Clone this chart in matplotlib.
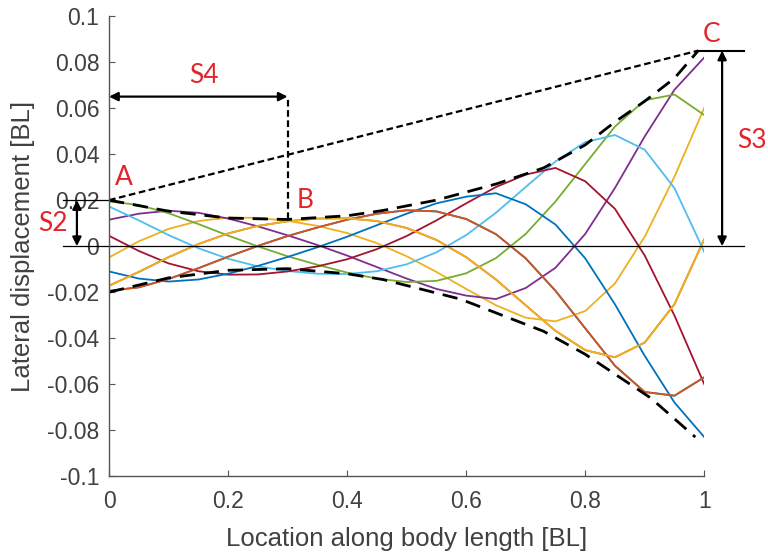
import matplotlib
matplotlib.use('Agg')
import matplotlib.pyplot as plt

# sample points along the body [BL]
x_pos = [0.00, 0.05, 0.10, 0.15, 0.20, 0.25, 0.30, 0.35, 0.40, 0.45, 0.50,
         0.55, 0.60, 0.65, 0.70, 0.75, 0.80, 0.85, 0.90, 0.95, 1.00]

# lateral displacement of the 10 snapshots
# snapshots 1 and 2 sit under 9 and 10
snap_1 = [-0.0194, -0.0179, -0.0143, -0.0096, -0.0046, 0.0001, 0.0044, 0.0081, 0.0115, 0.0141, 0.0156,
          0.0151, 0.0118, 0.0052, -0.0053, -0.0194, -0.0357, -0.0520, -0.0634, -0.0650, -0.0570]
snap_2 = [-0.0172, -0.0112, -0.0048, 0.0009, 0.0055, 0.0088, 0.0108, 0.0120, 0.0121, 0.0109, 0.0079,
          0.0027, -0.0048, -0.0145, -0.0257, -0.0368, -0.0452, -0.0483, -0.0419, -0.0252, 0.0030]
snap_3 = [-0.0049, 0.0021, 0.0075, 0.0109, 0.0124, 0.0123, 0.0110, 0.0088, 0.0057, 0.0013, -0.0044,
          -0.0112, -0.0186, -0.0257, -0.0311, -0.0327, -0.0282, -0.0162, 0.0041, 0.0302, 0.0601]
snap_4 = [0.0115, 0.0141, 0.0154, 0.0145, 0.0120, 0.0086, 0.0047, 0.0005, -0.0041, -0.0091, -0.0141,
          -0.0186, -0.0215, -0.0230, -0.0182, -0.0094, 0.0053, 0.0253, 0.0477, 0.0680, 0.0820]
snap_5 = [0.0194, 0.0179, 0.0143, 0.0096, 0.0046, -0.0001, -0.0044, -0.0081, -0.0115, -0.0141, -0.0156,
          -0.0151, -0.0118, -0.0052, 0.0053, 0.0194, 0.0357, 0.0520, 0.0634, 0.0659, 0.0570]
snap_6 = [0.0172, 0.0112, 0.0048, -0.0009, -0.0055, -0.0088, -0.0108, -0.0120, -0.0121, -0.0109, -0.0079,
          -0.0027, 0.0048, 0.0145, 0.0257, 0.0368, 0.0452, 0.0483, 0.0419, 0.0252, -0.0025]
snap_7 = [0.0045, -0.0021, -0.0075, -0.0109, -0.0124, -0.0123, -0.0110, -0.0088, -0.0057, -0.0013, 0.0044,
          0.0112, 0.0186, 0.0257, 0.0311, 0.0340, 0.0282, 0.0162, -0.0041, -0.0302, -0.0600]
snap_8 = [-0.0110, -0.0141, -0.0154, -0.0145, -0.0120, -0.0086, -0.0047, -0.0005, 0.0041, 0.0091, 0.0141,
          0.0186, 0.0215, 0.0230, 0.0182, 0.0094, -0.0053, -0.0253, -0.0477, -0.0680, -0.0830]
snap_9 = [-0.0194, -0.0179, -0.0143, -0.0096, -0.0046, 0.0001, 0.0044, 0.0081, 0.0115, 0.0141, 0.0156,
          0.0151, 0.0118, 0.0052, -0.0053, -0.0194, -0.0357, -0.0520, -0.0634, -0.0650, -0.0570]
snap_10 = [-0.0172, -0.0112, -0.0048, 0.0009, 0.0055, 0.0088, 0.0108, 0.0120, 0.0121, 0.0109, 0.0079,
           0.0027, -0.0048, -0.0145, -0.0257, -0.0368, -0.0452, -0.0483, -0.0419, -0.0252, 0.0030]
snapshots = [snap_1, snap_2, snap_3, snap_4, snap_5, snap_6, snap_7, snap_8, snap_9, snap_10]

# MATLAB default color order
line_colors = ['#0072BD', '#D95319', '#EDB120', '#7E2F8E', '#77AC30', '#4DBEEE', '#A2142F',
               '#0072BD', '#D95319', '#EDB120']

# envelopes (dashed)
env_x = [0.0, 0.1, 0.2, 0.3, 0.4, 0.46, 0.55, 0.65, 0.73, 0.8, 0.85, 0.9, 0.95, 0.99]
env_upper = [0.020, 0.0152, 0.0122, 0.0116, 0.0132, 0.0155, 0.020, 0.027, 0.034, 0.044, 0.054, 0.063, 0.073, 0.085]
low_x = [0.0, 0.1, 0.2, 0.3, 0.4, 0.46, 0.59, 0.73, 0.8, 0.91, 0.985]
env_lower = [-0.020, -0.0138, -0.0105, -0.0098, -0.012, -0.0145, -0.023, -0.037, -0.047, -0.066, -0.083]

# points A, B, C
pt_A = (0.0, 0.020)
pt_B = (0.30, 0.0116)
pt_C = (0.99, 0.085)
s4_level = 0.065

fig = plt.figure(figsize=(7.68, 5.55), dpi=100)
ax = fig.add_axes([0.142, 0.142, 0.775, 0.829])

for ys, col in zip(snapshots, line_colors):
    ax.plot(x_pos, ys, color=col, lw=1.3)

ax.plot(env_x, env_upper, color='black', lw=2.0, dashes=(5.5, 3.2))
ax.plot(low_x, env_lower, color='black', lw=2.0, dashes=(5.5, 3.2))
ax.plot([pt_A[0], pt_C[0]], [pt_A[1], pt_C[1]], color='black', lw=1.6, dashes=(3, 1.6))
ax.plot([pt_B[0], pt_B[0]], [pt_B[1], s4_level], color='black', lw=1.6, dashes=(3, 1.6))

# reference lines
ax.plot([-0.077, 1.067], [0, 0], color='black', lw=0.9, clip_on=False)
ax.plot([-0.077, 0], [pt_A[1], pt_A[1]], color='black', lw=0.9, clip_on=False)
ax.plot([pt_C[0], 1.067], [pt_C[1], pt_C[1]], color='black', lw=1.5, clip_on=False)

arr = dict(arrowstyle='<|-|>', color='black', lw=1.6, mutation_scale=13, shrinkA=0, shrinkB=0)
ax.annotate('', xy=(-0.054, 0), xytext=(-0.054, pt_A[1]), arrowprops=arr, annotation_clip=False)
ax.annotate('', xy=(1.030, 0), xytext=(1.030, pt_C[1]), arrowprops=arr, annotation_clip=False)
ax.annotate('', xy=(0, s4_level), xytext=(pt_B[0], s4_level), arrowprops=arr, annotation_clip=False)

red = '#E0262B'
lab = dict(color=red, fontsize=19, family='Lato', ha='center', va='center')
ax.text(0.025, 0.030, 'A', **lab)
ax.text(0.330, 0.020, 'B', **lab)
ax.text(1.012, 0.092, 'C', clip_on=False, **lab)
ax.text(-0.094, 0.010, 'S2', clip_on=False, **lab)
ax.text(1.080, 0.046, 'S3', clip_on=False, **lab)
ax.text(0.160, 0.074, 'S4', **lab)

ax.set_xlim(0, 1)
ax.set_ylim(-0.1, 0.1)
xt = [0, 0.2, 0.4, 0.6, 0.8, 1]
yt = [-0.1, -0.08, -0.06, -0.04, -0.02, 0, 0.02, 0.04, 0.06, 0.08, 0.1]
ax.set_xticks(xt)
ax.set_xticklabels(['0', '0.2', '0.4', '0.6', '0.8', '1'])
ax.set_yticks(yt)
ax.set_yticklabels(['-0.1', '-0.08', '-0.06', '-0.04', '-0.02', '0', '0.02', '0.04', '0.06', '0.08', '0.1'])

grey = '#404040'
for side in ['top', 'right']:
    ax.spines[side].set_visible(False)
for side in ['left', 'bottom']:
    ax.spines[side].set_color('#555555')
    ax.spines[side].set_linewidth(1.0)
ax.tick_params(direction='in', length=4, width=0.8, color='#555555', labelcolor=grey,
               labelsize=16.5)
ax.tick_params(axis='x', pad=10)
ax.tick_params(axis='y', pad=7)
for t in ax.get_xticklabels() + ax.get_yticklabels():
    t.set_family('Liberation Sans')

ax.set_xlabel('Location along body length [BL]', fontsize=18.5, color=grey, family='Liberation Sans')
ax.set_ylabel('Lateral displacement [BL]', fontsize=18.5, color=grey, family='Liberation Sans')
ax.xaxis.set_label_coords(0.5, -0.11)
ax.yaxis.set_label_coords(-0.124, 0.5)

fig.savefig('out.png', dpi=100)
